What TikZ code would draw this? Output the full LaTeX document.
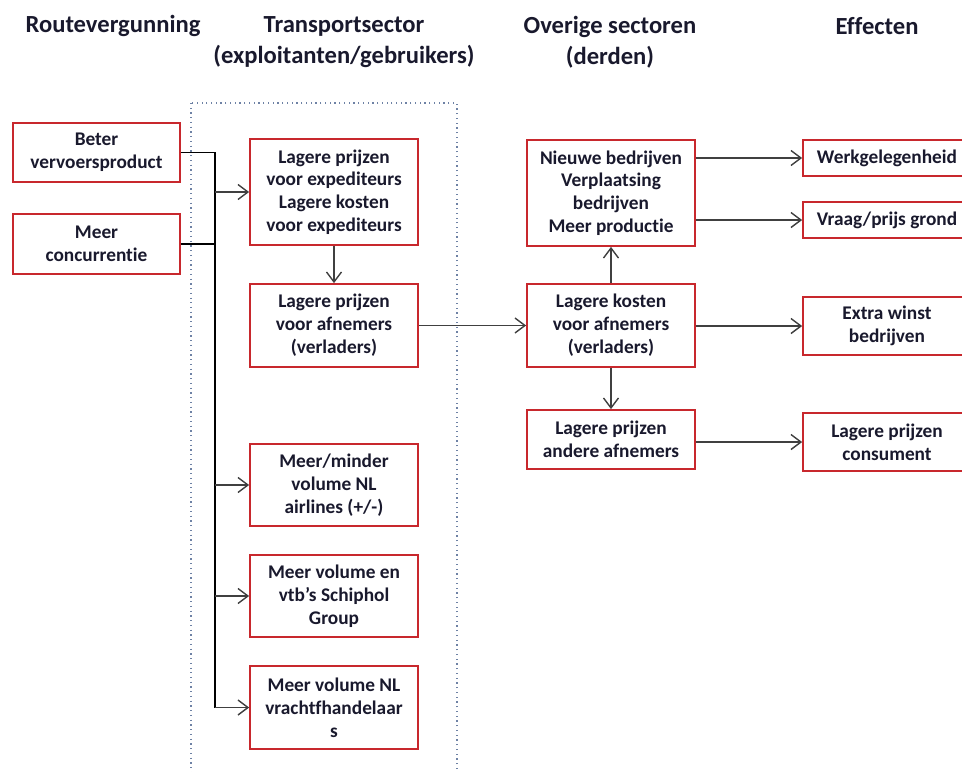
\documentclass[tikz,border=0pt]{standalone}
\usepackage{fontspec}
\setmainfont{Carlito}[Ligatures=NoCommon]
\usetikzlibrary{positioning}
\usetikzlibrary{arrows.meta}
\definecolor{boxred}{RGB}{200,40,45}
\definecolor{inkblue}{RGB}{25,25,45}
\definecolor{dotblue}{RGB}{110,130,165}
\tikzstyle{effectbox}=[rectangle,draw=boxred,line width=1pt,fill=white,align=center,text=inkblue,font=\bfseries\fontsize{11}{13}\selectfont,minimum width=3.36cm,inner sep=2pt]
\tikzstyle{edge} = [draw,line width=0.8pt,black!75,-{Straight Barb[length=2mm,width=3mm]}]
\tikzstyle{bus} = [draw,line width=1.1pt,black]
\tikzstyle{header} = [align=center,text=inkblue,font=\bfseries\fontsize{14}{17.5}\selectfont]
\begin{document}
\begin{tikzpicture}

  \def\u{0.02};
  \useasboundingbox (0,0) rectangle (962*\u,-771*\u);

  % transport sector frame
  \draw[dotted, dotblue, line width=0.7pt] (191*\u,-103*\u) rectangle (457*\u,-775*\u);

   \foreach \x/\y/\name/\label in {113/26/hroute/Routevergunning, 344/42/htrans/{Transportsector\\(exploitanten/gebruikers)}, 610/42/hother/{Overige sectoren\\(derden)}, 877/26/heff/Effecten}
          \node[header] (\name) at (\x*\u, -\y*\u) {\label};

   \foreach \x/\y/\h/\name/\label in {96.5/152.5/59/beter/{Beter\\vervoersproduct}, 96.5/244/60/meer/{Meer\\concurrentie}}
          \node[effectbox, minimum width=167*\u cm, minimum height=\h*\u cm] (\name) at (\x*\u, -\y*\u) {\label};

   \foreach \x/\y/\h/\name/\label in {334/192/106/exped/{Lagere prijzen\\voor expediteurs\\Lagere kosten\\voor expediteurs}, 334/325.5/83/afnem/{Lagere prijzen\\voor afnemers\\(verladers)}, 334/485/82/airl/{Meer/minder\\volume NL\\airlines (+/-)}, 334/596/82/vtb/{Meer volume en\\vtb’s Schiphol\\Group}, 334/707.5/83/vracht/{Meer volume NL\\vrachtfhandelaar\\s}}
          \node[effectbox, minimum height=\h*\u cm] (\name) at (\x*\u, -\y*\u) {\label};

   \foreach \x/\y/\h/\name/\label in {611/193/106/nieuw/{Nieuwe bedrijven\\Verplaatsing\\bedrijven\\Meer productie}, 611/325.5/83/kosten/{Lagere kosten\\voor afnemers\\(verladers)}, 611/439.5/59/ander/{Lagere prijzen\\andere afnemers}}
          \node[effectbox, minimum height=\h*\u cm] (\name) at (\x*\u, -\y*\u) {\label};

   \foreach \x/\y/\h/\name/\label in {887/158/36/werk/Werkgelegenheid, 887/220/36/grond/{Vraag/prijs grond}, 887/326/58/winst/{Extra winst\\bedrijven}, 887/442/58/consu/{Lagere prijzen\\consument}}
          \node[effectbox, minimum height=\h*\u cm] (\name) at (\x*\u, -\y*\u) {\label};

  % route licence bus
  \coordinate (busbot) at (215*\u, -707.5*\u);
  \draw[bus] (beter.east) -- (beter.east -| busbot) -- (busbot);
  \draw[bus] (meer.east) -- (meer.east -| busbot);

  \foreach \dest in {exped, airl, vtb, vracht}
         \path[edge] (busbot |- \dest.west) -- (\dest.west);

  \foreach \source/ \dest in {exped/afnem, afnem/kosten, kosten/nieuw, kosten/ander}
         \path[edge] (\source) -- (\dest);

  \foreach \source/ \dest in {nieuw/werk, nieuw/grond, kosten/winst, ander/consu}
         \path[edge] (\source.east |- \dest) -- (\dest.west);

\end{tikzpicture}
\end{document}
